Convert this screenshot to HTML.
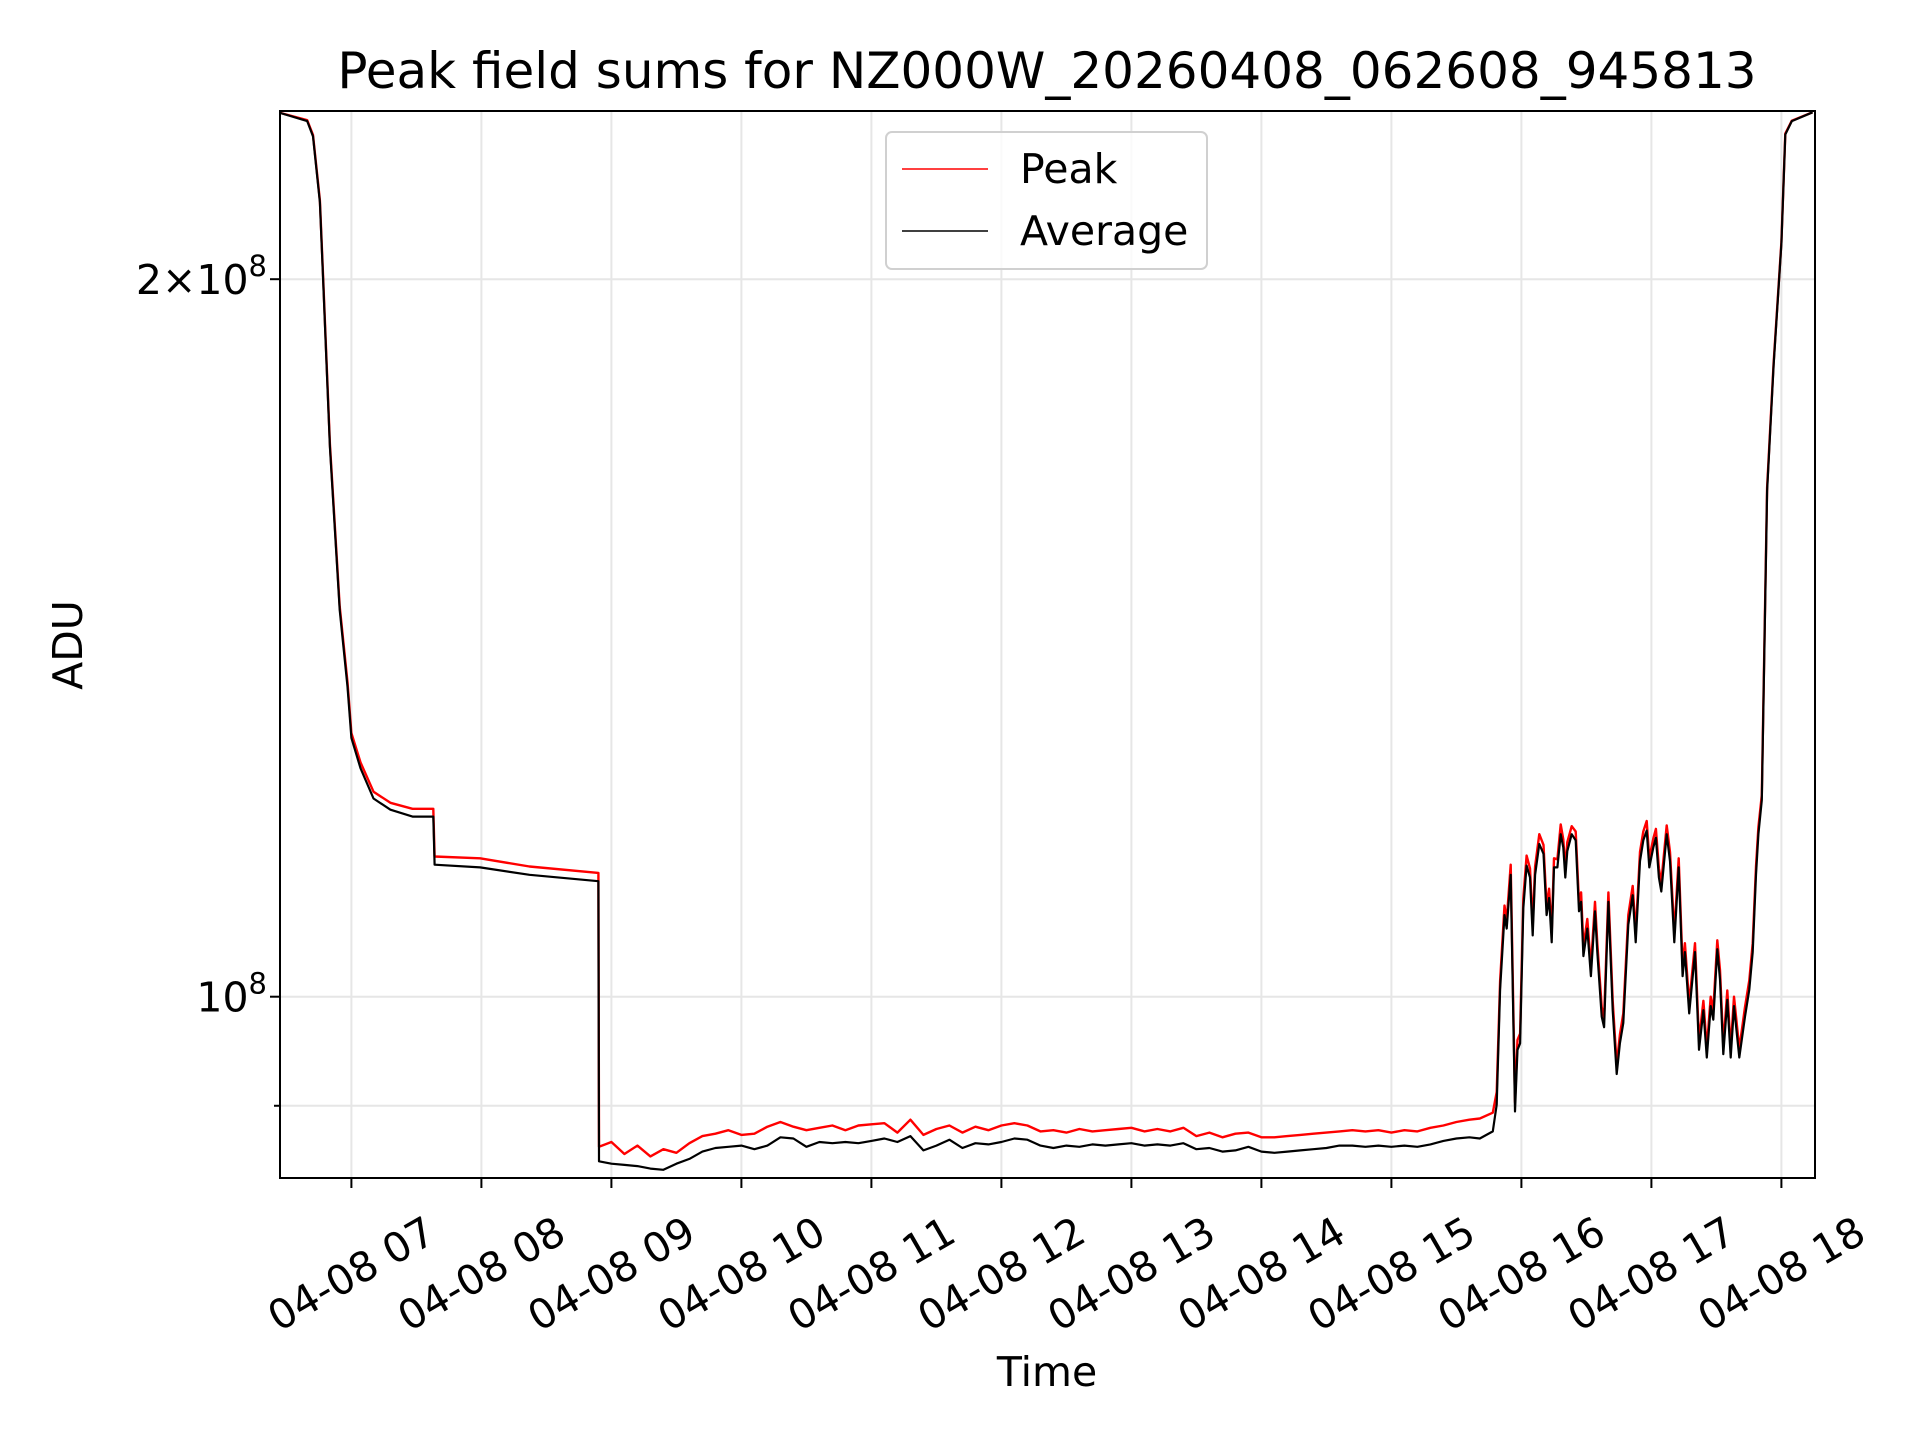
<!DOCTYPE html>
<html><head><meta charset="utf-8"><style>
body{margin:0;background:#fff}
svg{display:block;font-family:"DejaVu Sans","Liberation Sans",sans-serif}
</style></head><body>
<svg id="chart" width="1920" height="1440" viewBox="0 0 1920 1440"></svg>
<script>
// Time in hours (UTC on 04-08), values in millions of ADU
const avgTimes=[6.436,6.66,6.705,6.758,6.782,6.835,6.91,6.97,7.0,7.07,7.17,7.3,7.47,7.63,7.64,7.99,8.37,8.9,
8.905,9.0,9.1,9.2,9.3,9.4,9.5,9.6,9.7,9.8,9.9,10.0,10.1,10.2,10.3,10.4,10.5,10.6,10.7,10.8,10.9,11.0,11.1,11.2,11.3,11.4,11.5,11.6,11.7,11.8,11.9,12.0,12.1,12.2,12.3,12.4,12.5,12.6,12.7,12.8,12.9,13.0,13.1,13.2,13.3,13.4,13.5,13.6,13.7,13.8,13.9,14.0,14.1,14.2,14.3,14.4,14.5,14.6,14.7,14.8,14.9,15.0,15.1,15.2,15.3,15.4,15.5,15.6,15.68,
15.78,15.81,15.836,15.87,15.887,15.918,15.951,15.97,15.99,16.015,16.04,16.066,16.087,16.105,16.138,16.17,16.194,16.213,16.233,16.251,16.277,16.302,16.322,16.338,16.353,16.387,16.418,16.443,16.459,16.477,16.507,16.535,16.566,16.584,16.618,16.636,16.669,16.702,16.733,16.758,16.784,16.822,16.856,16.879,16.912,16.938,16.964,16.984,17.015,17.035,17.058,17.076,17.118,17.143,17.176,17.21,17.24,17.258,17.291,17.335,17.366,17.40,17.426,17.456,17.476,17.507,17.528,17.553,17.584,17.61,17.635,17.676,17.72,17.753,17.779,17.805,17.823,17.849,17.89,17.94,18.0,18.03,18.08,18.24];
const avgValues=[235,233,229.6,215.4,200,170.1,145.3,134.9,128.4,124.7,121.1,119.8,119,119,113.6,113.3,112.5,111.8,
85.3,85.1,85.0,84.9,84.7,84.6,85.1,85.5,86.1,86.4,86.5,86.6,86.3,86.6,87.3,87.2,86.5,86.9,86.8,86.9,86.8,87.0,87.2,86.9,87.4,86.2,86.6,87.1,86.4,86.8,86.7,86.9,87.2,87.1,86.6,86.4,86.6,86.5,86.7,86.6,86.7,86.8,86.6,86.7,86.6,86.8,86.3,86.4,86.1,86.2,86.5,86.1,86.0,86.1,86.2,86.3,86.4,86.6,86.6,86.5,86.6,86.5,86.6,86.5,86.7,87.0,87.2,87.3,87.2,
87.8,90.1,100.7,108.2,106.8,112.5,89.5,95,95.6,108.9,113.5,112.2,106.1,112.5,115.9,114.8,108.2,110,105.4,113.3,113.3,117,115.5,112.2,115.1,117,116.3,108.6,109.6,104,106.8,102,108.6,104.4,98.1,97.1,109.6,98.7,92.8,95.6,97.5,107.2,110.3,105.4,114,116.3,117.4,113.3,115.5,116.6,112.2,110.7,117,114,105.4,113.3,102,104.4,98.4,104.4,95,98.7,94.3,99.1,97.8,104.7,101.7,94.6,99.7,94.3,99.1,94.3,98.1,100.7,104.4,112.5,117,120.9,163,184,207,230,233,235];
const peakValues=[235,233.2,229.9,215.8,200.5,170.6,145.8,135.5,129,125.4,121.9,120.6,119.9,119.9,114.5,114.3,113.4,112.7,
86.5,86.9,85.9,86.6,85.7,86.3,86.0,86.8,87.4,87.6,87.9,87.5,87.6,88.2,88.6,88.2,87.9,88.1,88.3,87.9,88.3,88.4,88.5,87.7,88.8,87.5,88.0,88.3,87.7,88.2,87.9,88.3,88.5,88.3,87.8,87.9,87.7,88.0,87.8,87.9,88.0,88.1,87.8,88.0,87.8,88.1,87.4,87.7,87.3,87.6,87.7,87.3,87.3,87.4,87.5,87.6,87.7,87.8,87.9,87.8,87.9,87.7,87.9,87.8,88.1,88.3,88.6,88.8,88.9,
89.4,91.2,101.5,109.2,107.6,113.6,90.3,95.9,96.5,109.9,114.6,113.2,107.1,113.4,117,115.8,109.1,111,106.3,114.3,114.2,118.1,116.4,113.1,116.1,117.9,117.3,109.5,110.6,104.9,107.8,102.9,109.6,105.3,99,98,110.6,99.6,93.6,96.4,98.4,108.2,111.3,106.3,115,117.3,118.5,114.3,116.5,117.6,113.2,111.7,118,115,106.3,114.3,102.9,105.3,99.3,105.3,95.8,99.6,95.1,100,98.7,105.6,102.6,95.4,100.6,95.1,100,95.1,99,101.6,105.3,113.4,117.8,121.5,163.5,184.4,207.3,230.2,233.1,235];
const xTickHours=[7,8,9,10,11,12,13,14,15,16,17,18];
const xTickLabels=["04-08 07","04-08 08","04-08 09","04-08 10","04-08 11","04-08 12","04-08 13","04-08 14","04-08 15","04-08 16","04-08 17","04-08 18"];
const gridValues=[90,100,200];

const NS="http://www.w3.org/2000/svg";
const svg=document.getElementById('chart');
const L=280,R=1815,T=111,B=1178;
const x=h=>351.4+(h-7)*130.0;
const y=v=>996.7-Math.log10(v/100)*2383.5;
function el(tag,attrs,parent){const e=document.createElementNS(NS,tag);for(const k in attrs)e.setAttribute(k,attrs[k]);(parent||svg).appendChild(e);return e;}

gridValues.forEach(v=>{
  const g=el('line',{x1:L,x2:R,y1:y(v),y2:y(v),stroke:'#e6e6e6','stroke-width':2});
  
  
});
xTickHours.forEach(h=>{
  const g=el('line',{x1:x(h),x2:x(h),y1:T,y2:B,stroke:'#e6e6e6','stroke-width':2});
  
  
});

const defs=el('defs',{});
const cp=el('clipPath',{id:'clip'},defs);
el('rect',{x:L,y:T,width:R-L,height:B-T},cp);

function series(vals,color,name,w){
  const pts=avgTimes.map((t,i)=>x(t).toFixed(1)+','+y(vals[i]).toFixed(1)).join(' ');
  const p=el('polyline',{points:pts,fill:'none',stroke:color,'stroke-width':w,'stroke-linejoin':'round','clip-path':'url(#clip)'});
  
  
}
series(peakValues,'#ff0000','peak-series',2.4);
series(avgValues,'#000000','average-series',2.2);

const fr=el('rect',{x:L,y:T,width:R-L,height:B-T,fill:'none',stroke:'#000','stroke-width':2});



xTickHours.forEach((h,i)=>{
  el('line',{x1:x(h),x2:x(h),y1:B,y2:B+10,stroke:'#000','stroke-width':2});
  const t=el('text',{x:x(h),y:1274,'font-size':41,'text-anchor':'middle','dominant-baseline':'central',transform:`rotate(-30 ${x(h)} 1274)`});
  t.textContent=xTickLabels[i];
  
  
});
[[200,'major'],[100,'major'],[90,'minor']].forEach(([v,k])=>{
  el('line',{x1:L,x2:L-(k==='major'?10:6),y1:y(v),y2:y(v),stroke:'#000','stroke-width':2});
});
const yl1=el('text',{x:267,y:y(200)+15,'font-size':41,'text-anchor':'end'});
yl1.innerHTML='2×10<tspan dy="-18" font-size="29">8</tspan>';


const yl2=el('text',{x:267,y:y(100)+15,'font-size':41,'text-anchor':'end'});
yl2.innerHTML='10<tspan dy="-18" font-size="29">8</tspan>';



const title=el('text',{x:1047,y:88,'font-size':50,'text-anchor':'middle'});
title.textContent='Peak field sums for NZ000W_20260408_062608_945813';


const xt=el('text',{x:1047,y:1386,'font-size':41,'text-anchor':'middle'});
xt.textContent='Time';


const yt=el('text',{x:82,y:645,'font-size':41,'text-anchor':'middle',transform:'rotate(-90 82 645)'});
yt.textContent='ADU';



const lg=el('g',{});


el('rect',{x:886,y:132,width:321,height:137,rx:6,fill:'#fff','fill-opacity':0.8,stroke:'#d0d0d0','stroke-width':2},lg);
[['Peak','#ff0000',169],['Average','#000',231]].forEach(([n,c,yy])=>{
  const e=el('g',{},lg);
  
  
  el('line',{x1:902,x2:988,y1:yy,y2:yy,stroke:c,'stroke-width':1.6},e);
  const t=el('text',{x:1020,y:yy+14,'font-size':41},e);
  t.textContent=n;
});
</script>
</body></html>
